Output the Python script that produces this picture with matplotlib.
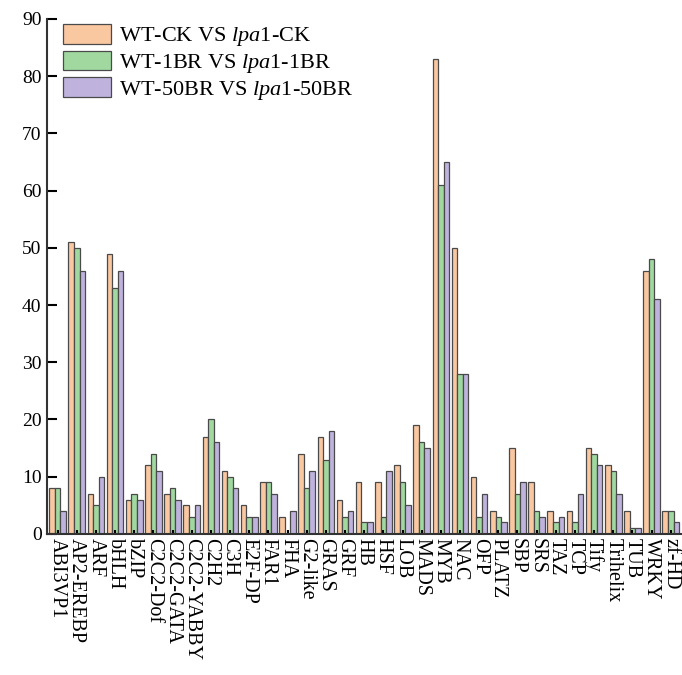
import numpy as np
import matplotlib
matplotlib.use('Agg')
from matplotlib import pyplot as plt

plt.rcParams['font.family'] = ['Liberation Serif', 'DejaVu Serif']
plt.rcParams['mathtext.fontset'] = 'custom'
plt.rcParams['mathtext.rm'] = 'Liberation Serif'
plt.rcParams['mathtext.it'] = 'Liberation Serif:italic'

families = ['ABI3VP1', 'AP2-EREBP', 'ARF', 'bHLH', 'bZIP', 'C2C2-Dof', 'C2C2-GATA',
            'C2C2-YABBY', 'C2H2', 'C3H', 'E2F-DP', 'FAR1', 'FHA', 'G2-like', 'GRAS',
            'GRF', 'HB', 'HSF', 'LOB', 'MADS', 'MYB', 'NAC', 'OFP', 'PLATZ', 'SBP',
            'SRS', 'TAZ', 'TCP', 'Tify', 'Trihelix', 'TUB', 'WRKY', 'zf-HD']

ck = [8, 51, 7, 49, 6, 12, 7, 5, 17, 11, 5, 9, 3, 14, 17, 6, 9, 9, 12, 19,
      83, 50, 10, 4, 15, 9, 4, 4, 15, 12, 4, 46, 4]
br1 = [8, 50, 5, 43, 7, 14, 8, 3, 20, 10, 3, 9, 0, 8, 13, 3, 2, 3, 9, 16,
       61, 28, 3, 3, 7, 4, 2, 2, 14, 11, 1, 48, 4]
br50 = [4, 46, 10, 46, 6, 11, 6, 5, 16, 8, 3, 7, 4, 11, 18, 4, 2, 11, 5, 15,
        65, 28, 7, 2, 9, 3, 3, 7, 12, 7, 1, 41, 2]

series = [ck, br1, br50]
labels = ['WT-CK VS $\\it{lpa1}$-CK',
          'WT-1BR VS $\\it{lpa1}$-1BR',
          'WT-50BR VS $\\it{lpa1}$-50BR']
colors = ['#F9C7A0', '#A0D8A0', '#BFB3DE']

fig = plt.figure(figsize=(6.82, 6.75), dpi=100)
ax = fig.add_axes([0.069, 0.209, 0.93, 0.763])

x = np.arange(len(families))
w = 0.29
for i, (vals, lab, col) in enumerate(zip(series, labels, colors)):
    ax.bar(x + (i - 1) * w, vals, width=w, color=col, edgecolor='#4a4a4a',
           linewidth=0.9, label=lab)

ax.set_xlim(-0.55, len(families) - 0.45)
ax.set_ylim(0, 90)
ax.set_yticks(range(0, 91, 10))
ax.set_xticks(x)
ax.set_xticklabels(families, rotation=-90, fontsize=14.5, va='top', ha='center')
ax.tick_params(axis='y', direction='in', length=7, width=1.5, labelsize=14, pad=4)
ax.tick_params(axis='x', direction='in', length=3, width=1.5, pad=3)
for s in ['top', 'right']:
    ax.spines[s].set_visible(False)
for s in ['left', 'bottom']:
    ax.spines[s].set_linewidth(1.5)
    ax.spines[s].set_color('#333333')

leg = ax.legend(loc='upper left', bbox_to_anchor=(0.007, 1.012), frameon=False,
                fontsize=16, handlelength=2.2, handleheight=1.0, labelspacing=0.1,
                handletextpad=0.35, borderaxespad=0.1)

fig.savefig('out.png', dpi=100)
